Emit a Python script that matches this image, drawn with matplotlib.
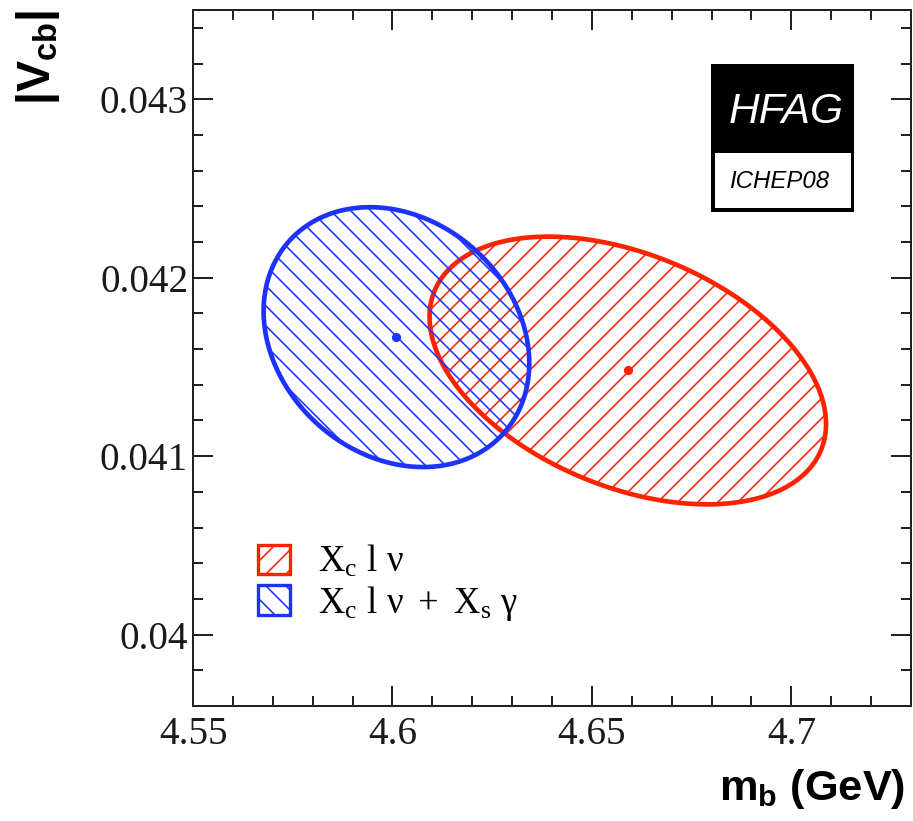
import numpy as np
import matplotlib
matplotlib.use("Agg")
import matplotlib.pyplot as plt
from matplotlib.patches import Polygon, Patch, Rectangle

# fit results: m_b (GeV), |Vcb|, 1-sigma widths and correlation
fits = ["Xc l nu", "Xc l nu + Xs gamma"]
mb_center = [4.659, 4.601]
vcb_center = [0.04148, 0.041667]
mb_sigma = [0.0497, 0.0333]
vcb_sigma = [0.000750, 0.000728]
rho = [-0.40, -0.20]
colors = ["#ff2200", "#1e32ff"]
hatches = ["//", "\\\\"]
legend_labels = [r"$\mathrm{X_c\ l}\ \nu$",
                 r"$\mathrm{X_c\ l}\ \nu\ +\ \mathrm{X_s}\ \gamma$"]

xticks = [4.55, 4.6, 4.65, 4.7]
xticklabels = ["4.55", "4.6", "4.65", "4.7"]
yticks = [0.04, 0.041, 0.042, 0.043]
yticklabels = ["0.04", "0.041", "0.042", "0.043"]

plt.rcParams["mathtext.fontset"] = "custom"
plt.rcParams["mathtext.rm"] = "Liberation Serif"
plt.rcParams["mathtext.it"] = "Liberation Serif"
plt.rcParams["mathtext.bf"] = "Liberation Sans:bold"
plt.rcParams["hatch.linewidth"] = 0.95

DPI = 120
W, H = 913, 821
fig = plt.figure(figsize=(W / DPI, H / DPI), dpi=DPI)
ax = fig.add_axes([193 / W, 1 - 706 / H, 718 / W, 696 / H])


def contour(mx, my, sx, sy, r, n=400):
    t = np.linspace(0, 2 * np.pi, n)
    x = mx + sx * np.cos(t)
    y = my + sy * (r * np.cos(t) + np.sqrt(1 - r * r) * np.sin(t))
    return np.column_stack([x, y])


for i in range(len(fits)):
    pts = contour(mb_center[i], vcb_center[i], mb_sigma[i], vcb_sigma[i], rho[i])
    ax.add_patch(Polygon(pts, closed=True, facecolor="none", edgecolor=colors[i],
                         hatch=hatches[i], linewidth=2.8, zorder=3))
    ax.plot(mb_center[i], vcb_center[i], "o", color=colors[i], markersize=5.5,
            markeredgewidth=0, zorder=4)

ax.set_xlim(4.55, 4.7295)
ax.set_ylim(0.0396, 0.0435)

ax.set_xticks(xticks)
ax.set_xticklabels(xticklabels)
ax.set_yticks(yticks)
ax.set_yticklabels(yticklabels)
ax.set_xticks(np.arange(4.55, 4.731, 0.01), minor=True)
ax.set_yticks(np.arange(0.0396, 0.04351, 0.0002), minor=True)
ax.tick_params(which="both", direction="in", top=True, right=True, width=1.2,
               color="#222222")
ax.tick_params(which="major", length=12)
ax.tick_params(which="minor", length=6)
ax.tick_params(axis="x", which="major", pad=6)
ax.tick_params(axis="y", which="major", pad=3)
for lab in ax.get_xticklabels() + ax.get_yticklabels():
    lab.set_fontfamily("Liberation Serif")
    lab.set_fontsize(23.5)
    lab.set_color("#1a1a1a")
for s in ax.spines.values():
    s.set_linewidth(1.2)
    s.set_color("#222222")

ax.set_xlabel(r"$\mathbf{m_b}$ (GeV)", loc="right", fontsize=26,
              fontfamily="Liberation Sans", fontweight="bold")
ax.xaxis.set_label_coords(0.9916, -0.088)
ax.text(-0.216, 1.0, r"$\mathbf{|V_{cb}|}$", transform=ax.transAxes,
        rotation=90, ha="center", va="top", fontsize=28)

handles = [Patch(facecolor="none", edgecolor=colors[i], hatch=hatches[i],
                 linewidth=2.0) for i in range(len(fits))]
ax.legend(handles, legend_labels, loc="upper left",
          bbox_to_anchor=((258 - 193) / 718, (706 - 543) / 696),
          frameon=False, fontsize=22, handlelength=0.88, handleheight=0.85,
          handletextpad=0.75, labelspacing=0.1, borderpad=0, borderaxespad=0)

# HFAG logo
fig.add_artist(Rectangle((711 / W, 1 - 212 / H), 143 / W, 148 / H,
                         transform=fig.transFigure, facecolor="black",
                         edgecolor="none"))
fig.add_artist(Rectangle((715 / W, 1 - 208 / H), 136 / W, 55 / H,
                         transform=fig.transFigure, facecolor="white",
                         edgecolor="none"))
fig.text(786 / W, 1 - 112 / H, "HFAG", color="white", fontsize=25.5,
         fontfamily="Liberation Sans", fontstyle="italic", ha="center",
         va="center")
fig.text(729 / W, 1 - 182 / H, "ICHEP08", color="black", fontsize=14.4,
         fontfamily="Liberation Sans", fontstyle="italic", ha="left",
         va="center")

fig.savefig("out.png", dpi=DPI)
